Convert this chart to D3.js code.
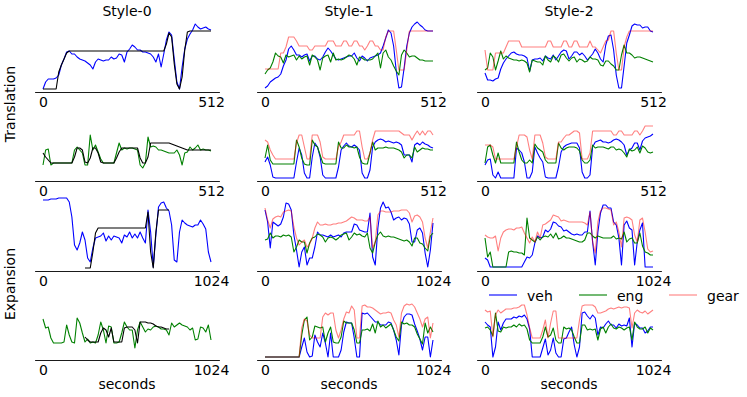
<!DOCTYPE html>
<html><head><meta charset="utf-8">
<script src="https://cdn.jsdelivr.net/npm/d3@7"></script>
<style>body{margin:0;background:#fff} svg text{font-family:"DejaVu Sans",sans-serif}</style>
</head><body><svg id="c" width="747" height="397"></svg>
<script>
// ---- labels ----
const styleNames = ["Style-0", "Style-1", "Style-2"];
const rowNames = ["Translation", "Expansion"];
const seriesNames = ["veh", "eng", "gear"];
const rowSpans = [512, 512, 1024, 1024];      // x-axis length (seconds) per row
const xLabel = "seconds";

// ---- data (height units above the panel floor), 65 samples per series ----
const tr1_s0_veh = [3,10,13,13,13,14,17,27,33,40,41,38,38,35,33,32,31,29,27,23,30,33,32,31,32,32,35,33,34,38,37,30,40,43,47,45,42,42,40,40,39,38,35,30,38,25,38,52,60,57,33,10,3,25,43,53,58,62,68,65,63,64,65,63,62];
const tr1_s0_ref = [3,3,3,3,3,3,20,27,33,39,41,41,41,41,41,41,41,41,41,41,41,41,41,41,41,41,41,41,41,41,41,41,41,41,41,41,41,41,41,41,41,41,41,41,41,41,41,48,59,55,28,8,3,15,42,60,61,61,61,61,61,61,61,61,61];
const tr1_s1_veh = [4,6,10,12,14,15,18,26,32,43,46,42,37,37,35,37,38,31,36,36,33,32,35,40,44,41,37,33,32,33,34,35,36,36,39,34,31,36,34,31,34,35,36,37,39,46,54,62,59,46,21,4,5,24,46,59,65,68,70,67,65,62,61,61,61];
const tr1_s1_eng = [18,22,24,30,39,36,35,29,37,35,36,37,32,36,33,35,36,27,37,35,32,22,34,36,37,30,39,32,33,32,33,35,37,36,33,27,35,34,32,32,32,33,36,39,24,39,42,35,32,26,21,17,37,42,39,35,36,36,34,32,32,31,31,31,31];
const tr1_s1_gear = [23,23,23,23,23,23,39,39,45,55,55,55,51,46,46,46,46,42,42,46,46,46,46,46,51,51,51,46,46,46,51,51,46,46,51,51,46,46,42,46,51,51,46,46,42,42,55,61,61,61,42,22,22,22,42,61,61,61,61,61,61,61,61,61,61];
const tr1_s2_veh = [19,12,12,11,13,14,23,29,33,36,39,40,38,37,37,36,34,21,32,33,33,34,31,36,34,33,37,32,36,40,42,41,33,36,40,40,37,39,36,32,35,38,43,39,33,30,47,56,57,42,17,4,4,26,49,57,66,68,67,67,64,65,65,61,60];
const tr1_s2_eng = [22,24,39,35,22,31,41,33,36,34,33,32,32,31,32,31,29,20,32,31,30,30,27,36,32,30,36,34,30,37,38,34,31,34,35,30,33,32,30,31,35,33,33,32,27,26,31,31,28,26,22,22,37,47,39,39,37,34,35,35,34,33,32,31,30];
const tr1_s2_gear = [42,22,22,22,39,39,39,39,45,51,51,51,51,51,45,45,45,45,45,45,45,45,45,45,51,51,45,45,45,45,51,51,45,45,51,51,45,45,45,45,51,45,45,42,39,45,51,52,61,61,39,22,22,45,55,61,61,61,61,61,61,61,61,61,61];

const tr2_s0_eng = [16,31,32,16,18,18,18,18,18,18,18,18,31,34,31,28,16,16,46,31,36,29,22,18,18,18,18,18,28,38,31,33,32,33,33,32,31,16,13,18,44,34,35,34,31,31,30,29,28,28,28,31,26,16,28,29,34,31,33,36,31,32,31,31,30];
const tr2_s0_ref = [28,24,21,18,18,18,18,18,18,18,18,18,24,33,33,31,19,18,23,33,33,28,19,18,18,18,18,18,23,29,33,33,33,33,33,33,33,23,18,18,24,38,38,38,38,38,38,38,38,37,36,35,34,33,32,31,31,31,31,31,31,31,31,31,31];
const tr2_s1_veh = [19,24,16,4,3,3,3,3,3,3,3,3,19,33,26,8,3,3,24,38,34,24,6,3,3,3,3,3,14,31,35,38,35,34,36,34,31,8,3,3,11,34,39,41,42,41,39,40,39,38,39,38,36,26,26,26,19,36,38,36,39,37,36,34,33];
const tr2_s1_eng = [23,36,21,17,17,17,17,17,17,17,17,17,41,34,23,17,16,16,41,36,34,26,18,17,17,17,17,17,39,33,33,36,34,34,33,34,24,18,17,17,28,39,31,33,33,33,34,33,33,33,32,31,29,23,26,26,23,34,29,31,33,32,32,31,31];
const tr2_s1_gear = [41,39,31,26,22,22,22,22,22,22,22,22,38,46,46,34,22,22,46,46,46,39,24,22,22,22,22,22,34,39,46,46,46,46,46,50,50,34,22,22,28,41,50,50,50,50,50,50,50,50,50,50,48,46,46,46,41,46,50,46,50,46,50,50,46];
const tr2_s2_veh = [16,21,22,6,3,9,3,3,3,3,3,3,33,31,28,19,3,3,9,34,28,23,19,4,3,3,3,3,14,29,34,36,37,38,38,38,33,9,3,3,6,34,39,40,41,39,39,38,39,41,42,41,39,36,26,31,33,38,38,31,40,43,44,45,47];
const tr2_s2_eng = [18,34,36,26,18,28,18,18,18,18,18,18,39,29,21,18,18,21,18,37,33,31,29,21,18,18,18,18,38,33,31,33,34,34,34,33,30,21,18,18,21,36,33,34,34,34,33,32,34,34,31,32,31,28,24,32,30,31,34,28,35,33,29,28,29];
const tr2_s2_gear = [36,36,36,34,22,22,22,22,22,22,22,22,34,46,46,46,44,31,22,46,46,46,38,24,22,22,22,22,39,39,43,46,46,48,50,50,48,22,22,22,28,50,50,50,50,50,50,50,50,46,46,50,50,46,46,46,46,50,50,46,50,55,55,55,55];

const ex1_s0_veh = [71,71,71,72,72,72,73,73,73,73,69,54,26,21,28,39,31,13,9,23,33,34,35,38,30,35,31,35,34,33,28,36,34,39,33,37,33,39,33,28,61,39,4,36,64,68,69,63,60,46,11,9,39,51,48,46,45,44,46,46,51,47,42,19,9];
const ex1_s0_ref = [null,null,null,null,null,null,null,null,null,null,null,null,null,null,null,null,3,3,3,19,38,43,43,43,43,43,43,43,43,43,43,43,43,43,43,43,43,43,43,43,59,19,3,39,61,61,61,61,61,null,null,null,null,null,null,null,null,null,null,null,null,null,null,null,null];
const ex1_s1_veh = [61,49,23,49,47,45,47,54,68,67,61,36,21,4,19,24,6,13,13,24,39,36,36,35,34,36,34,35,36,34,38,39,39,39,47,46,41,40,39,39,58,14,6,43,63,69,63,64,59,51,53,54,51,53,52,47,29,29,41,43,38,18,4,21,48];
const ex1_s1_eng = [31,32,38,33,35,35,34,36,35,36,34,19,24,31,29,29,18,28,33,34,37,36,34,29,33,34,33,31,33,36,37,38,31,34,38,36,37,35,34,38,23,18,29,36,39,35,34,35,34,34,33,32,31,30,31,29,25,33,33,28,27,23,20,35,38];
const ex1_s1_gear = [63,51,43,52,54,55,54,59,60,61,60,44,33,26,29,31,24,27,33,43,49,46,46,47,46,46,47,47,48,48,49,50,52,54,53,51,51,51,50,50,54,23,29,56,60,60,59,59,59,60,60,60,61,61,61,58,49,55,56,54,49,33,23,39,53];
const ex1_s2_veh = [13,11,4,4,4,4,4,4,4,4,4,4,4,4,4,9,14,13,16,28,35,33,34,41,39,42,49,48,45,44,40,41,39,37,36,37,36,36,39,39,60,29,6,39,58,66,66,63,63,49,46,33,6,46,50,43,41,6,29,41,48,4,4,4,4];
const ex1_s2_eng = [33,14,19,4,4,4,4,4,4,19,20,19,19,18,18,16,53,33,31,29,34,31,34,35,34,37,33,38,32,33,35,33,33,32,31,30,29,29,31,38,38,35,33,35,34,33,33,33,33,35,32,33,32,39,29,32,33,28,28,38,25,19,18,16,16];
const ex1_s2_gear = [36,34,33,33,35,20,33,39,41,42,42,41,43,43,44,38,33,28,34,29,39,33,46,47,49,51,56,55,54,50,51,50,49,49,49,49,49,49,48,46,59,29,18,49,60,63,63,62,61,46,49,39,24,53,54,53,51,36,29,51,53,39,22,19,20];

const ex2_s0_eng = [41,32,33,22,17,17,17,17,18,35,25,18,17,42,37,27,18,21,17,18,17,25,38,30,17,34,33,17,17,18,27,38,33,30,30,12,30,38,33,28,31,30,33,34,33,31,31,30,25,37,33,35,37,35,34,33,30,32,20,21,33,32,28,35,20];
const ex2_s0_ref = [null,null,null,null,null,null,null,null,null,null,null,null,null,null,null,null,23,20,18,18,18,18,27,32,30,23,32,18,18,18,18,32,33,33,33,30,17,38,38,38,37,37,36,34,33,33,32,31,31,null,null,null,null,null,null,null,null,null,null,null,null,null,null,null,null];
const ex2_s1_veh = [3,3,3,3,3,3,3,3,3,3,3,3,3,3,13,22,8,3,4,25,18,13,27,17,3,27,3,3,3,10,28,38,37,37,22,3,3,47,46,47,44,41,38,38,35,35,35,38,37,30,20,5,35,43,46,46,45,36,29,21,10,23,23,3,20];
const ex2_s1_eng = [3,3,3,3,3,3,3,3,3,3,3,3,3,3,25,40,43,20,23,34,33,32,33,18,27,33,18,17,17,23,39,37,37,37,30,17,17,30,30,31,29,36,27,39,33,35,32,34,36,30,23,19,38,36,37,35,35,33,26,21,16,37,27,33,28];
const ex2_s1_gear = [3,3,3,3,3,3,3,3,3,3,3,3,3,3,32,41,39,25,22,22,22,22,43,47,45,47,47,30,22,30,41,48,47,54,50,22,22,54,55,53,53,52,50,48,46,47,47,48,47,40,35,23,47,54,56,55,56,53,47,41,33,41,43,22,37];
const ex2_s2_veh = [38,35,33,3,13,38,30,37,41,41,41,43,42,44,43,45,41,31,3,3,3,3,12,21,5,10,22,7,3,3,21,22,28,33,15,3,13,47,48,44,41,45,42,25,33,32,36,39,35,35,32,36,34,35,34,42,13,37,35,32,32,27,29,33,33];
const ex2_s2_eng = [32,33,30,24,47,29,28,33,32,33,33,35,33,36,34,35,31,20,17,17,17,17,23,33,23,25,32,20,17,17,33,31,32,30,23,17,17,35,35,30,31,30,31,20,31,33,27,33,36,32,31,33,32,30,32,33,20,38,33,31,31,33,27,32,30];
const ex2_s2_gear = [50,48,49,23,45,50,47,49,51,51,51,52,52,53,55,55,45,32,22,22,22,22,30,40,22,37,49,49,22,22,22,22,22,22,22,22,40,54,55,55,55,55,53,47,47,48,49,51,52,51,52,53,52,53,53,52,32,47,50,48,47,49,46,48,50];

// panel table built from the arrays: [row][col]
const panels = [
  [{veh: tr1_s0_veh, ref: tr1_s0_ref}, {veh: tr1_s1_veh, eng: tr1_s1_eng, gear: tr1_s1_gear}, {veh: tr1_s2_veh, eng: tr1_s2_eng, gear: tr1_s2_gear}],
  [{eng: tr2_s0_eng, ref: tr2_s0_ref}, {veh: tr2_s1_veh, eng: tr2_s1_eng, gear: tr2_s1_gear}, {veh: tr2_s2_veh, eng: tr2_s2_eng, gear: tr2_s2_gear}],
  [{veh: ex1_s0_veh, ref: ex1_s0_ref}, {veh: ex1_s1_veh, eng: ex1_s1_eng, gear: ex1_s1_gear}, {veh: ex1_s2_veh, eng: ex1_s2_eng, gear: ex1_s2_gear}],
  [{eng: ex2_s0_eng, ref: ex2_s0_ref}, {veh: ex2_s1_veh, eng: ex2_s1_eng, gear: ex2_s1_gear}, {veh: ex2_s2_veh, eng: ex2_s2_eng, gear: ex2_s2_gear}]
];

// ---- layout ----
const colX0 = [43, 265, 485];
const plotW = 168;
const rowAxisY = [92, 181, 271, 360];
const styles = {
  veh: {stroke: "#0000ff", opacity: 1},
  eng: {stroke: "#008000", opacity: 1},
  gear: {stroke: "#ff0000", opacity: 0.5},
  ref: {stroke: "#000000", opacity: 1}
};
const FS = 14;

const svg = d3.select("#c");

panels.forEach((row, r) => {
  const span = rowSpans[r];
  row.forEach((p, c) => {
    const x0 = colX0[c];
    const n = (p.veh || p.eng).length;
    const t = d3.range(n).map(i => i * span / (n - 1));
    const x = d3.scaleLinear().domain([0, span]).range([x0, x0 + plotW]);
    const y = d3.scaleLinear().domain([0, 80]).range([rowAxisY[r], rowAxisY[r] - 80]);
    const g = svg.append("g");

    // axis
    const xa = d3.scaleLinear().domain([-0.05 * span, 1.05 * span]).range([x0 - 0.05 * plotW, x0 + 1.05 * plotW]);
    const ax = g.append("g").attr("transform", `translate(0,${rowAxisY[r]})`)
      .call(d3.axisBottom(xa).tickValues([0, span]).tickSize(0).tickSizeOuter(0).tickPadding(5).tickFormat(d3.format("d")));
    ax.select(".domain").attr("stroke", "#000").attr("stroke-width", 0.9);
    ax.selectAll("text").attr("font-size", FS).attr("font-family", "DejaVu Sans").attr("fill", "#000");

    ["veh", "eng", "gear", "ref"].forEach(k => {
      if (!p[k]) return;
      const line = d3.line().defined(d => d !== null).x((d, i) => x(t[i])).y(d => y(d));
      g.append("path").attr("d", line(p[k]))
        .attr("fill", "none").attr("stroke", styles[k].stroke)
        .attr("stroke-opacity", styles[k].opacity).attr("stroke-width", 1.1)
        .attr("stroke-linejoin", "round");
    });

    if (r === 0) {
      svg.append("text").attr("x", x0 + plotW / 2).attr("y", 15.5).attr("text-anchor", "middle")
        .attr("font-size", FS).text(styleNames[c]);
    }
    if (r === 3) {
      svg.append("text").attr("x", x0 + plotW / 2).attr("y", 388.5).attr("text-anchor", "middle")
        .attr("font-size", FS).text(xLabel);
    }
  });
});

// row labels
[[rowNames[0], 104], [rowNames[1], 284]].forEach(([txt, cy]) => {
  svg.append("text").attr("transform", `translate(14.5,${cy}) rotate(-90)`)
    .attr("text-anchor", "middle").attr("font-size", FS).text(txt);
});

// legend
const legX = [489, 579, 669];
seriesNames.forEach((s, i) => {
  svg.append("line").attr("x1", legX[i]).attr("x2", legX[i] + 28).attr("y1", 295).attr("y2", 295)
    .attr("stroke", styles[s].stroke).attr("stroke-opacity", styles[s].opacity).attr("stroke-width", 1.1);
  svg.append("text").attr("x", legX[i] + 38).attr("y", 300.5).attr("font-size", FS).text(s);
});
</script></body></html>
